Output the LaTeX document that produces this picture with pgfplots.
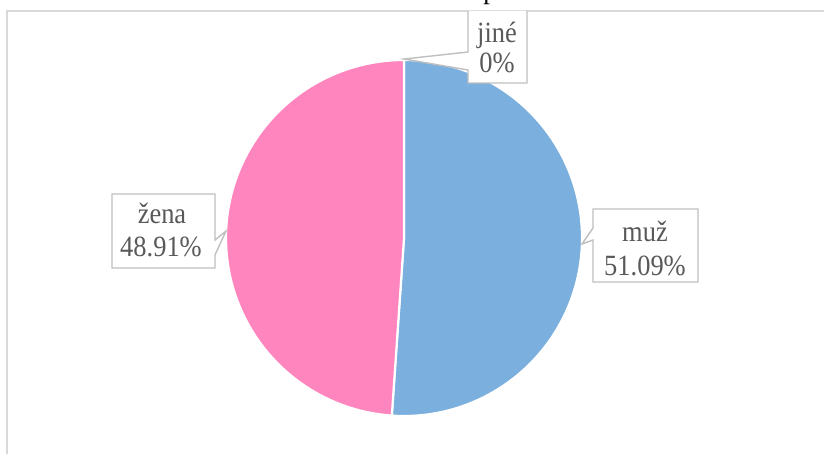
\documentclass[border=0pt]{standalone}
\usepackage{fontspec}
\setmainfont[FakeStretch=0.9]{Liberation Serif}
\usepackage{pgfplots}
\usepackage{pgfplotstable}
\pgfplotsset{compat=1.18}
\definecolor{muzc}{HTML}{7AAFDE}
\definecolor{zenac}{HTML}{FF85BE}
\definecolor{framec}{HTML}{D9D9D9}
\definecolor{calloutc}{HTML}{BFBFBF}
\definecolor{labc}{HTML}{595959}
\pgfplotstableread{
label value
muz 51.09
zena 48.91
jine 0
}\piedata
\begin{document}
\begin{tikzpicture}
\pgfplotstablegetelem{0}{value}\of\piedata \let\vA\pgfplotsretval
\pgfplotstablegetelem{1}{value}\of\piedata \let\vB\pgfplotsretval
\pgfmathsetmacro\aMid{90-3.6*\vA}
\pgfmathsetmacro\aEnd{\aMid-3.6*\vB}
\useasboundingbox (0,0) rectangle (824bp,454bp);
\clip (0,0) rectangle (824bp,454bp);
\begin{axis}[
  width=824bp, height=454bp, scale only axis,
  xmin=0, xmax=824, ymin=0, ymax=454, y dir=reverse,
  hide axis, clip=false,
]
% chart frame
\draw[framec, line width=1.6bp] (7,460) -- (7,11) -- (830,11);
% title (cut off at top)
\node[anchor=base, font=\fontsize{29.5}{34}\selectfont, text=black] at (490,-1) {p};
% pie slices
\addplot[fill=muzc, draw=white, line width=2.2bp, domain=\aMid:90, samples=150, variable=\t]
  ({404+178*cos(\t)},{238-178*sin(\t)}) -- (404,238) -- cycle;
\addplot[fill=zenac, draw=white, line width=2.2bp, domain=\aEnd:\aMid, samples=150, variable=\t]
  ({404+178*cos(\t)},{238-178*sin(\t)}) -- (404,238) -- cycle;
% callouts
\draw[calloutc, fill=white, line width=1.4bp]
  (468,11) -- (468,52) -- (404,59) -- (468,70) -- (468,83) -- (527,83) -- (527,11);
\draw[calloutc, fill=white, line width=1.4bp]
  (112,194) -- (215,194) -- (215,240) -- (226,231) -- (215,255) -- (215,268) -- (112,268) -- cycle;
\draw[calloutc, fill=white, line width=1.4bp]
  (593,209) -- (698,209) -- (698,282) -- (593,282) -- (593,240) -- (582,244) -- (593,228) -- cycle;
% labels
\begin{scope}[every node/.style={anchor=base, text=labc, font=\fontsize{29.5}{34}\selectfont, inner sep=0pt}]
\node at (497,43) {jiné};
\node at (497,73) {0\%};
\node at (162,223) {žena};
\node at (161,256) {48.91\%};
\node at (645,241) {muž};
\node at (645,275) {51.09\%};
\end{scope}
\end{axis}
\end{tikzpicture}
\end{document}
